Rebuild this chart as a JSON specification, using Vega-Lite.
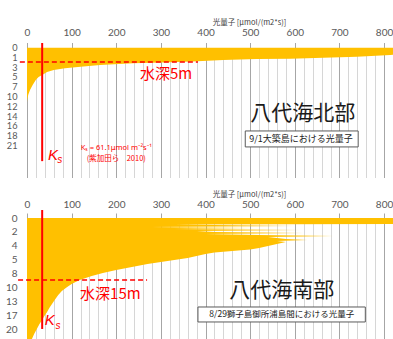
{
  "$schema": "https://vega.github.io/schema/vega-lite/v6.json",
  "background": "white",
  "padding": {"left": 5, "top": 18.5, "right": 0, "bottom": 0},
  "spacing": 12.5,
  "config": {
    "view": {"stroke": null},
    "font": "Noto Sans CJK JP"
  },
  "datasets": {
    "north": [
      {"row": 0, "light": 830},
      {"row": 0.72, "light": 830},
      {"row": 0.77, "light": 814},
      {"row": 0.94, "light": 739},
      {"row": 1.04, "light": 664},
      {"row": 1.14, "light": 590},
      {"row": 1.18, "light": 515},
      {"row": 1.28, "light": 440},
      {"row": 1.42, "light": 370},
      {"row": 1.52, "light": 300},
      {"row": 1.61, "light": 238},
      {"row": 1.79, "light": 164},
      {"row": 1.96, "light": 120},
      {"row": 2.12, "light": 85},
      {"row": 2.3, "light": 60},
      {"row": 2.5, "light": 45},
      {"row": 2.77, "light": 35},
      {"row": 3.0, "light": 26},
      {"row": 3.3, "light": 20},
      {"row": 3.8, "light": 13},
      {"row": 4.3, "light": 7},
      {"row": 4.8, "light": 3},
      {"row": 5.3, "light": 0.5},
      {"row": 5.6, "light": 0}
    ],
    "south": [
      {"row": 0, "light": 830},
      {"row": 0.43, "light": 830},
      {"row": 0.46, "light": 330},
      {"row": 0.57, "light": 600},
      {"row": 0.64, "light": 280},
      {"row": 0.71, "light": 500},
      {"row": 0.79, "light": 330},
      {"row": 0.86, "light": 612},
      {"row": 0.93, "light": 380},
      {"row": 1.0, "light": 420},
      {"row": 1.07, "light": 620},
      {"row": 1.14, "light": 400},
      {"row": 1.21, "light": 520},
      {"row": 1.29, "light": 686},
      {"row": 1.36, "light": 540},
      {"row": 1.43, "light": 560},
      {"row": 1.5, "light": 580},
      {"row": 1.57, "light": 628},
      {"row": 1.64, "light": 560},
      {"row": 1.71, "light": 580},
      {"row": 1.86, "light": 560},
      {"row": 2.0, "light": 540},
      {"row": 2.14, "light": 520},
      {"row": 2.25, "light": 500},
      {"row": 2.36, "light": 460},
      {"row": 2.46, "light": 420},
      {"row": 2.57, "light": 400},
      {"row": 2.71, "light": 380},
      {"row": 2.86, "light": 360},
      {"row": 3.0, "light": 330},
      {"row": 3.14, "light": 300},
      {"row": 3.29, "light": 270},
      {"row": 3.5, "light": 235},
      {"row": 3.71, "light": 200},
      {"row": 3.93, "light": 170},
      {"row": 4.14, "light": 145},
      {"row": 4.43, "light": 118},
      {"row": 4.71, "light": 100},
      {"row": 4.93, "light": 90},
      {"row": 5.21, "light": 78},
      {"row": 5.5, "light": 70},
      {"row": 5.86, "light": 62},
      {"row": 6.14, "light": 56},
      {"row": 6.43, "light": 50},
      {"row": 6.71, "light": 45},
      {"row": 7.0, "light": 39},
      {"row": 7.29, "light": 34},
      {"row": 7.57, "light": 28},
      {"row": 7.93, "light": 22},
      {"row": 8.29, "light": 16},
      {"row": 8.64, "light": 11},
      {"row": 9.0, "light": 6}
    ]
  },
  "vconcat": [
    {
      "width": 366,
      "height": 130,
      "layer": [
        {
          "data": {"name": "north"},
          "mark": {"type": "area", "orient": "horizontal", "color": "#FFC000", "clip": true},
          "encoding": {
            "y": {"field": "row", "type": "quantitative", "scale": {"domain": [0, 13.27], "reverse": true, "nice": false, "zero": false},
                  "axis": {"values": [0,1,2,3,4,5,6,7,8,9,10], "tickCount": 100, "labelExpr": "['0','1','3','5','7','10','12','14','16','18','21'][datum.value]",
                           "grid": false, "ticks": false, "domain": false, "labelOverlap": false, "labelFont": "Lato", "labelFontSize": 9.2,
                           "labelColor": "#595959", "labelPadding": 10, "title": null}},
            "x": {"field": "light", "type": "quantitative", "scale": {"domain": [0, 820], "nice": false},
                  "axis": {"orient": "top", "tickCount": 100,
                           "values": [0,20,40,60,80,100,120,140,160,180,200,220,240,260,280,300,320,340,360,380,400,420,440,460,480,500,520,540,560,580,600,620,640,660,680,700,720,740,760,780,800,820],
                           "labelExpr": "datum.value % 100 === 0 ? datum.label : ''",
                           "labelOverlap": false, "labelFlush": false, "labelFont": "Lato", "labelFontSize": 10, "labelColor": "#595959", "labelPadding": 5.5,
                           "grid": true,
                           "gridColor": {"condition": {"test": "datum.value % 100 === 0", "value": "#a6a6a6"}, "value": "#d6d6d6"},
                           "tickColor": {"condition": {"test": "datum.value % 100 === 0", "value": "#a6a6a6"}, "value": "transparent"},
                           "tickSize": 5, "domain": false,
                           "title": "光量子 [μmol/(m2*s)]", "titleFontSize": 7.5, "titleFontWeight": "normal", "titleColor": "#404040",
                           "titleX": 222, "titleY": -25, "titleAlign": "center", "titleBaseline": "middle"}}
          }
        },
        {
          "data": {"values": [{}]},
          "mark": {"type": "rule", "color": "#FF0000", "strokeWidth": 2},
          "encoding": {"x": {"datum": 34}, "y": {"datum": -0.46}, "y2": {"datum": 11.6}}
        },
        {
          "data": {"values": [{}]},
          "mark": {"type": "rule", "color": "#FF0000", "strokeWidth": 1.5, "strokeDash": [5, 3]},
          "encoding": {"x": {"datum": -16}, "x2": {"datum": 383}, "y": {"datum": 1.48}}
        },
        {
          "data": {"values": [{}]},
          "mark": {"type": "text", "text": "水深5m", "color": "#FF0000", "fontSize": 15, "align": "left", "baseline": "middle"},
          "encoding": {"x": {"datum": 253}, "y": {"datum": 2.7}}
        },
        {
          "data": {"values": [{}]},
          "mark": {"type": "text", "text": "K", "font": "Liberation Sans", "fontStyle": "italic", "color": "#FF0000", "fontSize": 15, "align": "left", "baseline": "middle"},
          "encoding": {"x": {"datum": 47}, "y": {"datum": 10.97}}
        },
        {
          "data": {"values": [{}]},
          "mark": {"type": "text", "text": "s", "font": "Liberation Sans", "fontStyle": "italic", "color": "#FF0000", "fontSize": 10, "align": "left", "baseline": "middle"},
          "encoding": {"x": {"datum": 68}, "y": {"datum": 11.48}}
        },
        {
          "data": {"values": [{}]},
          "mark": {"type": "text", "text": "Kₛ = 61.1μmol m⁻²s⁻¹", "font": "Noto Sans", "color": "#FF0000", "fontSize": 7.5, "align": "center", "baseline": "middle"},
          "encoding": {"x": {"datum": 200}, "y": {"datum": 10.3}}
        },
        {
          "data": {"values": [{}]},
          "mark": {"type": "text", "text": "(紫加田ら　2010)", "color": "#FF0000", "fontSize": 7.5, "align": "center", "baseline": "middle"},
          "encoding": {"x": {"datum": 200}, "y": {"datum": 11.38}}
        },
        {
          "data": {"values": [{}]},
          "mark": {"type": "text", "text": "八代海北部", "color": "#1a1a1a", "fontSize": 21, "align": "center", "baseline": "middle"},
          "encoding": {"x": {"datum": 618}, "y": {"datum": 6.79}}
        },
        {
          "data": {"values": [{}]},
          "mark": {"type": "rect", "fill": "white", "stroke": "#595959", "strokeWidth": 1},
          "encoding": {"x": {"datum": 489}, "x2": {"datum": 742}, "y": {"datum": 8.52}, "y2": {"datum": 10.15}}
        },
        {
          "data": {"values": [{}]},
          "mark": {"type": "text", "text": "9/1大築島における光量子", "color": "#222222", "fontSize": 9, "align": "center", "baseline": "middle"},
          "encoding": {"x": {"datum": 614}, "y": {"datum": 9.34}}
        }
      ]
    },
    {
      "width": 366,
      "height": 123,
      "layer": [
        {
          "data": {"name": "south"},
          "mark": {"type": "area", "orient": "horizontal", "color": "#FFC000", "clip": true},
          "encoding": {
            "y": {"field": "row", "type": "quantitative", "scale": {"domain": [0, 8.79], "reverse": true, "nice": false, "zero": false},
                  "axis": {"values": [0,1,2,3,4,5,6,7,8], "tickCount": 100, "labelExpr": "['0','2','4','5','8','10','13','17','20'][datum.value]",
                           "grid": false, "ticks": false, "domain": false, "labelOverlap": false, "labelFont": "Lato", "labelFontSize": 10,
                           "labelColor": "#595959", "labelPadding": 10, "title": null}},
            "x": {"field": "light", "type": "quantitative", "scale": {"domain": [0, 820], "nice": false},
                  "axis": {"orient": "top", "tickCount": 100,
                           "values": [0,20,40,60,80,100,120,140,160,180,200,220,240,260,280,300,320,340,360,380,400,420,440,460,480,500,520,540,560,580,600,620,640,660,680,700,720,740,760,780,800,820],
                           "labelExpr": "datum.value % 100 === 0 ? datum.label : ''",
                           "labelOverlap": false, "labelFlush": false, "labelFont": "Lato", "labelFontSize": 10, "labelColor": "#595959", "labelPadding": 4,
                           "grid": true,
                           "gridColor": {"condition": {"test": "datum.value % 100 === 0", "value": "#a6a6a6"}, "value": "#d6d6d6"},
                           "tickColor": {"condition": {"test": "datum.value % 100 === 0", "value": "#a6a6a6"}, "value": "transparent"},
                           "tickSize": 5, "domain": false,
                           "title": "光量子 [μmol/(m2*s)]", "titleFontSize": 7.5, "titleFontWeight": "normal", "titleColor": "#404040",
                           "titleX": 222, "titleY": -23.5, "titleAlign": "center", "titleBaseline": "middle"}}
          }
        },
        {
          "data": {"values": [{}]},
          "mark": {"type": "rule", "color": "#FF0000", "strokeWidth": 2},
          "encoding": {"x": {"datum": 34}, "y": {"datum": -0.57}, "y2": {"datum": 7.93}}
        },
        {
          "data": {"values": [{}]},
          "mark": {"type": "rule", "color": "#FF0000", "strokeWidth": 1.5, "strokeDash": [5, 3]},
          "encoding": {"x": {"datum": -20}, "x2": {"datum": 269}, "y": {"datum": 4.43}}
        },
        {
          "data": {"values": [{}]},
          "mark": {"type": "text", "text": "水深15m", "color": "#FF0000", "fontSize": 15, "align": "left", "baseline": "middle"},
          "encoding": {"x": {"datum": 119}, "y": {"datum": 5.43}}
        },
        {
          "data": {"values": [{}]},
          "mark": {"type": "text", "text": "K", "font": "Liberation Sans", "fontStyle": "italic", "color": "#FF0000", "fontSize": 15, "align": "left", "baseline": "middle"},
          "encoding": {"x": {"datum": 40}, "y": {"datum": 7.29}}
        },
        {
          "data": {"values": [{}]},
          "mark": {"type": "text", "text": "s", "font": "Liberation Sans", "fontStyle": "italic", "color": "#FF0000", "fontSize": 10, "align": "left", "baseline": "middle"},
          "encoding": {"x": {"datum": 64}, "y": {"datum": 7.71}}
        },
        {
          "data": {"values": [{}]},
          "mark": {"type": "text", "text": "八代海南部", "color": "#1a1a1a", "fontSize": 21, "align": "center", "baseline": "middle"},
          "encoding": {"x": {"datum": 571}, "y": {"datum": 5.21}}
        },
        {
          "data": {"values": [{}]},
          "mark": {"type": "rect", "fill": "white", "stroke": "#595959", "strokeWidth": 1},
          "encoding": {"x": {"datum": 383}, "x2": {"datum": 758}, "y": {"datum": 6.36}, "y2": {"datum": 7.43}}
        },
        {
          "data": {"values": [{}]},
          "mark": {"type": "text", "text": "8/29獅子島御所浦島間における光量子", "color": "#222222", "fontSize": 8.5, "align": "center", "baseline": "middle"},
          "encoding": {"x": {"datum": 571}, "y": {"datum": 6.89}}
        }
      ]
    }
  ]
}
